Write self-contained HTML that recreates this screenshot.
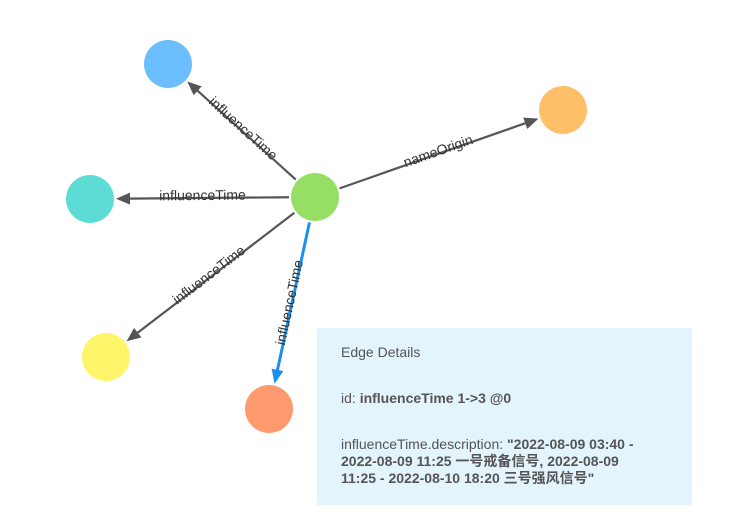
<!DOCTYPE html>
<html><head><meta charset="utf-8"><style>
html,body{margin:0;padding:0;background:#fff;width:738px;height:527px;overflow:hidden}
svg{position:absolute;left:0;top:0}
#panel{position:absolute;left:317px;top:328px;width:375px;height:177px;background:#e3f4fd;color:#555;font:14px "Liberation Sans","Noto Sans CJK SC",sans-serif;box-sizing:border-box;padding:16px 40px 16px 24px}
#panel p{margin:0}
b{color:#555}
</style></head><body>
<svg id="g" width="738" height="527"></svg>
<div id="panel">
<p>Edge Details</p>
<p style="margin-top:30px">id: <b>influenceTime 1-&gt;3 @0</b></p>
<p style="margin-top:30px;line-height:17px">influenceTime.description: <b>"2022-08-09 03:40 - 2022-08-09 11:25 一号戒备信号, 2022-08-09 11:25 - 2022-08-10 18:20 三号强风信号"</b></p>
</div>
<script>
const nodeIds=["center","blue","teal","orange","yellow","salmon"];
const nodeX=[315,168,90,563,106,269];
const nodeY=[197,64,199,110,357,409];
const nodeColors=["#97de65","#6bbfff","#5cdcd4","#ffbe68","#fff56a","#ff9a6e"];
const edgeFrom=[0,0,0,0,0];
const edgeTo=[1,2,3,4,5];
const edgeLabels=["influenceTime","influenceTime","nameOrigin","influenceTime","influenceTime"];
const edgeSelected=[false,false,false,false,true];
const R=24,NS="http://www.w3.org/2000/svg";
const svg=document.getElementById('g');
function mk(t,a){const e=document.createElementNS(NS,t);for(const k in a)e.setAttribute(k,a[k]);return e;}
edgeFrom.forEach((f,i)=>{
 const t=edgeTo[i];
 const x1=nodeX[f],y1=nodeY[f],x2=nodeX[t],y2=nodeY[t];
 const dx=x2-x1,dy=y2-y1,L=Math.hypot(dx,dy),ux=dx/L,uy=dy/L;
 const sx=x1+ux*(R+2),sy=y1+uy*(R+2),ex=x2-ux*(R+2),ey=y2-uy*(R+2);
 const col=edgeSelected[i]?"#1a8ff0":"#555";
 const w=edgeSelected[i]?3:2.2;
 const ax=ex-ux*14,ay=ey-uy*14;
 const line=mk('line',{x1:sx,y1:sy,x2:ax+ux*2,y2:ay+uy*2,stroke:col,'stroke-width':w});
 
 
 svg.appendChild(line);
 const px=-uy,py=ux;
 const arr=mk('polygon',{points:`${ex},${ey} ${ax+px*6},${ay+py*6} ${ax-px*6},${ay-py*6}`,fill:col});
 
 
 svg.appendChild(arr);
 let ang=Math.atan2(dy,dx)*180/Math.PI;
 if(ang>90)ang-=180; if(ang<-90)ang+=180;
 const mx=(sx+ex)/2,my=(sy+ey)/2;
 const tx=mk('text',{x:mx,y:my,'text-anchor':'middle','font-size':14,fill:'#333','font-family':'Liberation Sans, sans-serif',transform:`rotate(${ang} ${mx} ${my})`,dy:'2'});
 tx.textContent=edgeLabels[i];
 
 
 svg.appendChild(tx);
});
nodeIds.forEach((n,i)=>{
 const c=mk('circle',{cx:nodeX[i],cy:nodeY[i],r:R,fill:nodeColors[i]});
 
 
 svg.appendChild(c);
});
</script>
</body></html>
